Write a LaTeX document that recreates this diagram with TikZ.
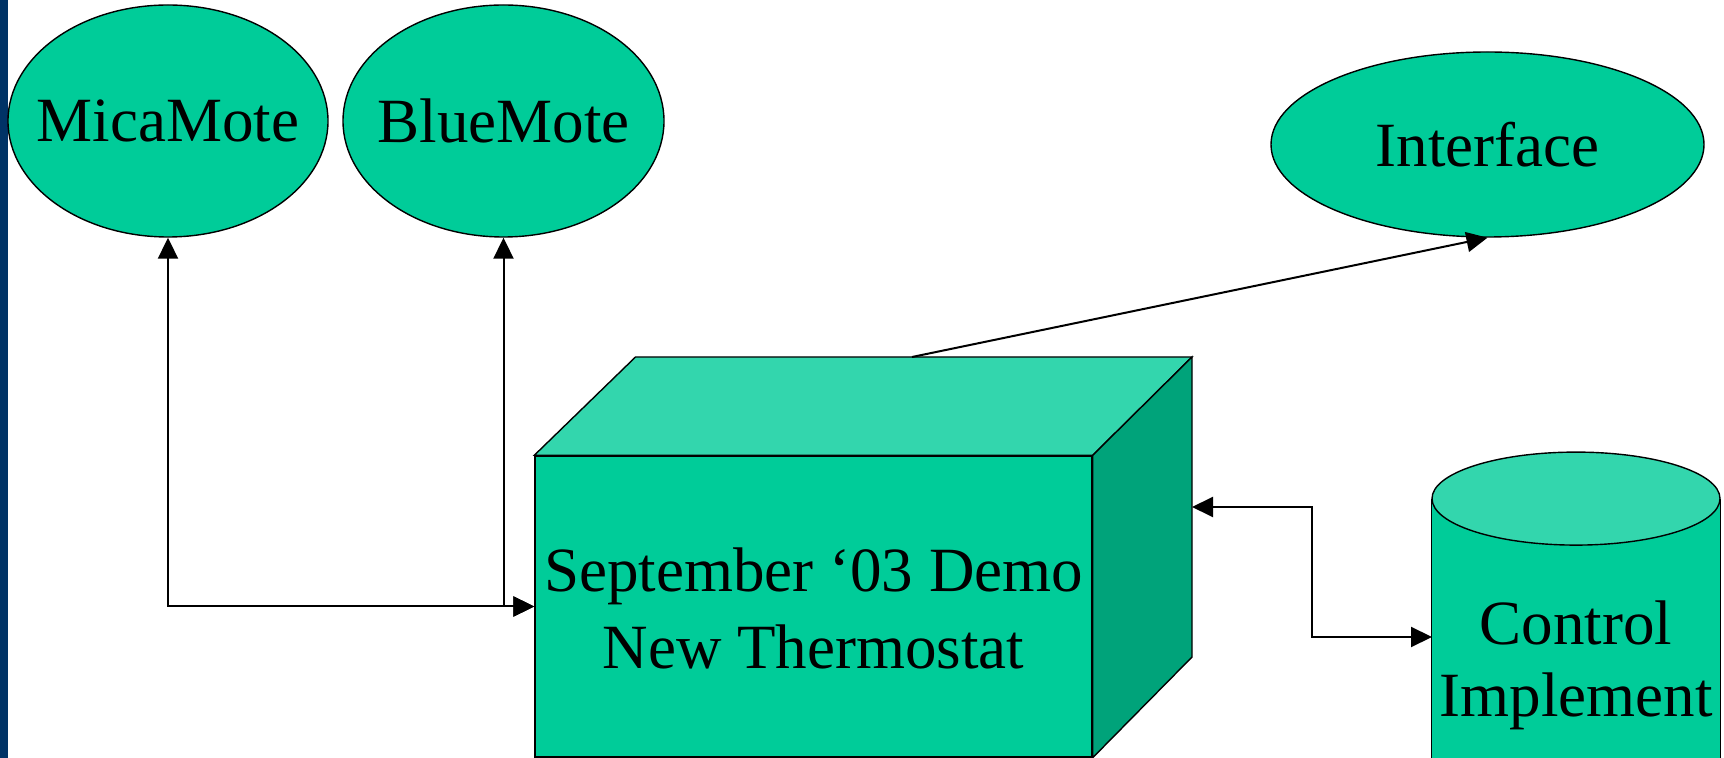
\documentclass[tikz,border=0pt]{standalone}
\usepackage{fontspec}
\setmainfont{Liberation Serif}
\usetikzlibrary{shapes.geometric,arrows.meta}
\definecolor{mote}{RGB}{0,204,153}
\definecolor{motetop}{RGB}{51,214,173}
\definecolor{moteside}{RGB}{0,163,122}
\definecolor{barblue}{RGB}{0,51,102}
\begin{document}
\begin{tikzpicture}[x=0.5pt,y=-0.5pt,
  >={Triangle[length=10.5pt,width=10pt]},
  bigtext/.style={font=\fontsize{31.5pt}{36pt}\selectfont},
  blob/.style={draw, ellipse, fill=mote, inner sep=0pt, line width=0.7pt},
  link/.style={line width=1pt}]
\useasboundingbox (0,0) rectangle (1724,758);
\fill[barblue] (0,0) rectangle (8,758);

\node[blob, minimum width=160pt, minimum height=116pt, label={[bigtext]center:MicaMote}] (mica) at (168,121) {};
\node[blob, minimum width=160.5pt, minimum height=116pt, label={[bigtext]center:BlueMote}] (blue) at (503.5,121) {};
\node[blob, minimum width=216.5pt, minimum height=92.5pt, label={[bigtext]center:Interface}] (iface) at (1487.5,144.5) {};

% box: front face is the node, top and side drawn round it
\node[draw, fill=mote, line width=0.7pt, minimum width=278.5pt, minimum height=150.5pt,
  label={[align=center, font=\fontsize{31.5pt}{38.5pt}\selectfont, yshift=-1.15pt]center:{September ‘03 Demo\\New Thermostat}}] (demo) at (813.5,606.5) {};
\filldraw[fill=motetop, line width=0.7pt] (demo.north west) -- (635.5,357) -- (1192,357) -- (demo.north east) -- cycle;
\filldraw[fill=moteside, line width=0.7pt] (demo.north east) -- (1192,357) -- (1192,657) -- (demo.south east) -- cycle;
\coordinate (topedge) at (912,357);
\coordinate (rface) at (1192,507);

% cylinder
\node[minimum width=144pt, minimum height=161pt] (ctrl) at (1576,660) {};
\filldraw[fill=mote, line width=0.7pt] (ctrl.north west) -- (ctrl.south west) -- (ctrl.south east) -- (ctrl.north east);
\filldraw[fill=motetop, line width=0.7pt] (ctrl.north) ellipse[x radius=144, y radius=46.5];
\node[align=center, font=\fontsize{31.5pt}{36pt}\selectfont] (ctrltext) at (1576,665.5) {Control\\Implement};
\coordinate (ctrlin) at (1432,637);

\draw[link, <->] (mica.south) |- (demo.west);
\draw[link, <->] (blue.south) |- (demo.west);
\draw[link, ->] (topedge) -- (iface.south);
\draw[link, <->] (rface) -- ++(120,0) |- (ctrlin);
\end{tikzpicture}
\end{document}
